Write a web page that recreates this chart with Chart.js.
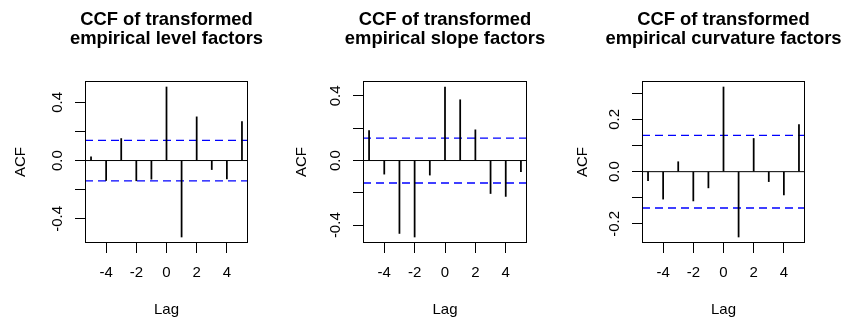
<!DOCTYPE html>
<html>
<head>
<meta charset="utf-8">
<script src="https://cdn.jsdelivr.net/npm/chart.js@4/dist/chart.umd.min.js"></script>
<style>
  html, body { margin: 0; padding: 0; background: #ffffff; }
  #wrap { position: relative; width: 843px; height: 322px; background: #ffffff; }
  #wrap canvas { position: absolute; top: 0; }
</style>
</head>
<body>
<div id="wrap">
  <canvas id="c0"></canvas>
  <canvas id="c1"></canvas>
  <canvas id="c2"></canvas>
</div>
<script>
// Lags of the cross-correlation function
const lags = [-5, -4, -3, -2, -1, 0, 1, 2, 3, 4, 5];
const lagTicks = [-4, -2, 0, 2, 4];

// Cross-correlations for each factor
const levelCcf = [0.025, -0.137, 0.151, -0.139, -0.128, 0.505, -0.525, 0.300, -0.062, -0.126, 0.267];
const slopeCcf = [0.186, -0.084, -0.451, -0.473, -0.090, 0.455, 0.376, 0.190, -0.204, -0.222, -0.069];
const curvatureCcf = [-0.034, -0.105, 0.038, -0.112, -0.062, 0.324, -0.250, 0.127, -0.038, -0.089, 0.180];

// Approximate 95% significance bound
const confBound = 0.139;

// Titles
const levelTitle = ['CCF of transformed', 'empirical level factors'];
const slopeTitle = ['CCF of transformed', 'empirical slope factors'];
const curvatureTitle = ['CCF of transformed', 'empirical curvature factors'];

// Y axis tick marks and the subset that carries a label
const levelTicks = [-0.4, -0.2, 0.0, 0.2, 0.4];
const levelTickLabels = [-0.4, 0.0, 0.4];
const slopeTicks = [-0.4, -0.2, 0.0, 0.2, 0.4];
const slopeTickLabels = [-0.4, 0.0, 0.4];
const curvatureTicks = [-0.2, -0.1, 0.0, 0.1, 0.2, 0.3];
const curvatureTickLabels = [-0.2, 0.0, 0.2];

const FONT = '"Liberation Sans", Arial, Helvetica, sans-serif';
const BASE_SIZE = 15;

// Frame around the plotting region, two-line bold title and rotated y tick labels
const framePlugin = {
  id: 'frame',
  afterDraw(chart, args, opts) {
    const ctx = chart.ctx;
    const a = chart.chartArea;
    const ys = chart.scales.y;
    ctx.save();
    ctx.fillStyle = '#000000';
    const l = Math.round(a.left), t = Math.round(a.top);
    const r = Math.round(a.right), b = Math.round(a.bottom);
    ctx.fillRect(l, t, r - l, 1);
    ctx.fillRect(l, b - 1, r - l, 1);
    ctx.fillRect(l, t, 1, b - t);
    ctx.fillRect(r - 1, t, 1, b - t);

    ctx.textAlign = 'center';
    ctx.textBaseline = 'alphabetic';
    ctx.font = 'bold 18.4px ' + FONT;
    const cx = (a.left + a.right) / 2;
    opts.heading.forEach((line, i) => ctx.fillText(line, cx, opts.headingBase + i * opts.headingStep));

    ctx.font = BASE_SIZE + 'px ' + FONT;
    ctx.textBaseline = 'middle';
    for (const v of opts.labels) {
      const py = ys.getPixelForValue(v);
      ctx.save();
      ctx.translate(a.left - opts.labelOffset, py);
      ctx.rotate(-Math.PI / 2);
      ctx.fillText(v.toFixed(1), 0, 0);
      ctx.restore();
    }
    ctx.restore();
  }
};

function makePanel(id, offsetLeft, boxLeft, rightPad, title, values, yTicks, yLabels) {
  const canvas = document.getElementById(id);
  canvas.style.left = offsetLeft + 'px';
  const lo = Math.min(...values, -confBound);
  const hi = Math.max(...values, confBound);
  const yPad = (hi - lo) * 0.04;
  const xLo = lags[0], xHi = lags[lags.length - 1];
  const xPad = (xHi - xLo) * 0.04;
  const xMin = xLo - xPad, xMax = xHi + xPad;

  const bars = lags.map((x, i) => ({ x: x, y: values[i] }));
  const hline = (v) => [{ x: xMin, y: v }, { x: xMax, y: v }];

  return new Chart(canvas, {
    type: 'bar',
    data: {
      datasets: [
        {
          type: 'line', data: hline(0), borderColor: '#000000', borderWidth: 1,
          pointRadius: 0, fill: false, order: 2
        },
        {
          type: 'line', data: hline(confBound), borderColor: '#0000ff', borderWidth: 1.3,
          borderDash: [8, 5], pointRadius: 0, fill: false, order: 1
        },
        {
          type: 'line', data: hline(-confBound), borderColor: '#0000ff', borderWidth: 1.3,
          borderDash: [8, 5], pointRadius: 0, fill: false, order: 1
        },
        {
          type: 'bar', data: bars, backgroundColor: '#000000', borderWidth: 0,
          barThickness: 1.1, order: 0
        }
      ]
    },
    options: {
      responsive: false,
      animation: false,
      devicePixelRatio: 1,
      layout: { padding: { left: 0, right: rightPad, top: 81, bottom: 0 } },
      plugins: {
        legend: { display: false },
        tooltip: { enabled: false },
        title: { display: false },
        frame: { labels: yLabels, labelOffset: 27.5, heading: title, headingBase: 25, headingStep: 19 }
      },
      scales: {
        x: {
          type: 'linear',
          offset: false,
          min: xMin,
          max: xMax,
          afterBuildTicks: (s) => { s.ticks = lagTicks.map(v => ({ value: v })); },
          afterFit: (s) => { s.height = 79; },
          grid: { offset: false, drawOnChartArea: false, drawTicks: true, tickLength: 10, tickColor: '#000000', lineWidth: 1 },
          border: { display: false },
          ticks: {
            color: '#000000', padding: 11, maxRotation: 0,
            font: { family: FONT, size: BASE_SIZE },
            callback: (v) => String(v)
          },
          title: {
            display: true, text: 'Lag', color: '#000000',
            font: { family: FONT, size: BASE_SIZE },
            padding: { top: 0, bottom: 3 }
          }
        },
        y: {
          type: 'linear',
          min: lo - yPad,
          max: hi + yPad,
          afterBuildTicks: (s) => { s.ticks = yTicks.map(v => ({ value: v })); },
          afterFit: (s) => { s.width = boxLeft; },
          grid: { drawOnChartArea: false, drawTicks: true, tickLength: 10, tickColor: '#000000', lineWidth: 1 },
          border: { display: false },
          ticks: { display: false },
          title: {
            display: true, text: 'ACF', color: '#000000',
            font: { family: FONT, size: BASE_SIZE },
            padding: { top: 11.5, bottom: 0 }
          }
        }
      }
    },
    plugins: [framePlugin]
  });
}

function sizeCanvas(id, w, h) {
  const c = document.getElementById(id);
  c.width = w; c.height = h;
  c.style.width = w + 'px'; c.style.height = h + 'px';
}
sizeCanvas('c0', 281, 322);
sizeCanvas('c1', 281, 322);
sizeCanvas('c2', 281, 322);

makePanel('c0', 0, 85, 33, levelTitle, levelCcf, levelTicks, levelTickLabels);
makePanel('c1', 281, 82, 35, slopeTitle, slopeCcf, slopeTicks, slopeTickLabels);
makePanel('c2', 562, 80, 38, curvatureTitle, curvatureCcf, curvatureTicks, curvatureTickLabels);
</script>
</body>
</html>
